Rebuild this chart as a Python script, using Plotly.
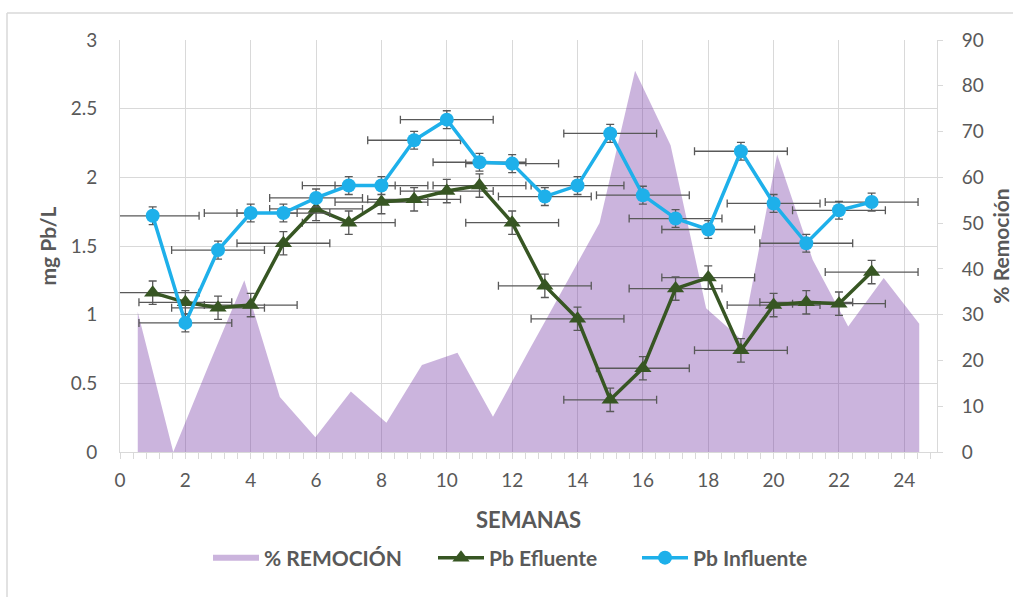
import plotly.graph_objects as go

# Weekly lead (Pb) concentrations and removal percentage
semanas = list(range(1, 24))
pb_influente = [1.72, 0.94, 1.47, 1.74, 1.74, 1.85, 1.94, 1.94, 2.27, 2.42, 2.11, 2.10,
                1.86, 1.94, 2.32, 1.87, 1.70, 1.62, 2.19, 1.81, 1.52, 1.76, 1.82]
pb_efluente = [1.16, 1.09, 1.05, 1.07, 1.52, 1.77, 1.67, 1.82, 1.84, 1.90, 1.94, 1.67,
               1.21, 0.97, 0.38, 0.61, 1.19, 1.27, 0.74, 1.07, 1.09, 1.08, 1.31]
remocion = [30.6, 0, 19, 37.5, 12, 3.2, 13.2, 6.4, 19, 21.7, 7.7, 22,
            36, 50, 83.3, 67, 31.4, 24.5, 65, 42, 27.4, 38, 28]

# error bar sizes
err_semana = 1.42
err_influente = 0.065
err_efluente = 0.085

TEXT = "#595959"
GRID = "#D9D9D9"
FONT = "Lato, 'Open Sans', sans-serif"

W, H = 1013, 597
L, R, T, B = 120, 76, 40, 145
pw, ph = W - L - R, H - T - B


def px_x(px):
    return (px - L) / pw


def px_y(py):
    return (H - B - py) / ph


fig = go.Figure()

# removal area on the category axis (drawn beneath the lines)
fig.add_trace(go.Scatter(
    x=semanas, y=remocion, name="% REMOCIÓN",
    mode="none", fill="tozeroy", fillcolor="rgba(112,48,160,0.36)",
    xaxis="x", yaxis="y", hoverinfo="skip", legend="legend",
))

fig.add_trace(go.Scatter(
    x=semanas, y=pb_efluente, name="Pb Efluente",
    mode="lines+markers",
    line=dict(color="#375623", width=3.5),
    marker=dict(symbol="triangle-up", size=15, color="#375623"),
    error_x=dict(type="constant", value=err_semana, color=TEXT, thickness=1.3, width=4),
    error_y=dict(type="constant", value=err_efluente, color=TEXT, thickness=1.3, width=4),
    xaxis="x2", yaxis="y2", legend="legend2",
))

fig.add_trace(go.Scatter(
    x=semanas, y=pb_influente, name="Pb Influente",
    mode="lines+markers",
    line=dict(color="#1EB0EA", width=3.5),
    marker=dict(symbol="circle", size=14, color="#1EB0EA"),
    error_x=dict(type="constant", value=err_semana, color=TEXT, thickness=1.3, width=4),
    error_y=dict(type="constant", value=err_influente, color=TEXT, thickness=1.3, width=4),
    xaxis="x2", yaxis="y2", legend="legend3",
))


def legend_at(px_left):
    return dict(
        orientation="h", x=px_x(px_left), xanchor="left", y=px_y(558), yanchor="middle",
        font=dict(family=FONT, size=21, color=TEXT, weight="bold"),
        itemwidth=46, bgcolor="rgba(0,0,0,0)",
    )


fig.update_layout(
    width=W, height=H,
    margin=dict(l=L, r=R, t=T, b=B, autoexpand=False),
    paper_bgcolor="white", plot_bgcolor="white",
    font=dict(family=FONT, color=TEXT, size=19),
    showlegend=True,
    legend=legend_at(208),
    legend2=legend_at(433),
    legend3=legend_at(637),
    xaxis=dict(range=[0.5, 23.5], visible=False, automargin=False),
    yaxis=dict(
        side="right", anchor="x", range=[0, 90], tick0=0, dtick=10,
        showgrid=False, zeroline=False, automargin=False,
        showline=True, linecolor=GRID, linewidth=1,
        ticks="outside", ticklen=5, tickcolor=GRID,
        ticklabelstandoff=15,
        tickfont=dict(size=19, color=TEXT),
        title=dict(text="% Remoción", font=dict(size=21, color=TEXT, weight="bold"), standoff=14),
    ),
    xaxis2=dict(
        overlaying="x", anchor="y2", side="bottom", range=[0, 25], tick0=0, dtick=2,
        showgrid=True, gridcolor=GRID, gridwidth=1, zeroline=False, automargin=False,
        showline=True, linecolor=GRID, linewidth=1,
        ticks="outside", ticklen=6, tickcolor=GRID,
        minor=dict(dtick=0.4, tick0=0, ticks="outside", ticklen=6, tickcolor=GRID, showgrid=False),
        ticklabelstandoff=5,
        tickfont=dict(size=19, color=TEXT),
        title=dict(text="SEMANAS", font=dict(size=22, color=TEXT, weight="bold"), standoff=22),
    ),
    yaxis2=dict(
        overlaying="y", anchor="x2", side="left", range=[0, 3], tick0=0, dtick=0.5,
        showgrid=True, gridcolor=GRID, gridwidth=1, zeroline=False, automargin=False,
        showline=True, linecolor=GRID, linewidth=1,
        ticks="", ticklabelstandoff=18,
        tickfont=dict(size=19, color=TEXT),
        title=dict(text="mg Pb/L", font=dict(size=21, color=TEXT, weight="bold"), standoff=8),
    ),
    shapes=[
        # chart frame
        dict(type="line", xref="paper", yref="paper", x0=px_x(7), x1=px_x(1020),
             y0=px_y(13), y1=px_y(13), line=dict(color=GRID, width=1.5)),
        dict(type="line", xref="paper", yref="paper", x0=px_x(7), x1=px_x(7),
             y0=px_y(13), y1=px_y(605), line=dict(color=GRID, width=1.5)),
    ],
)

fig.write_html("out.html")
